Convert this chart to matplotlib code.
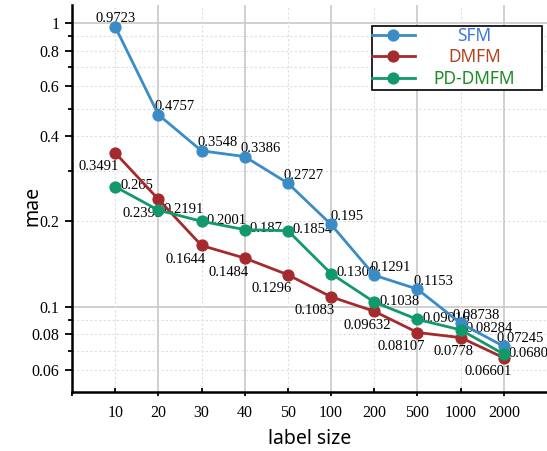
import numpy as np
import matplotlib
matplotlib.use("Agg")
import matplotlib.pyplot as plt
from matplotlib.patches import Rectangle
from matplotlib.ticker import FixedLocator, NullFormatter

# label sizes (drawn as evenly spaced categories)
sizes = ["10", "20", "30", "40", "50", "100", "200", "500", "1000", "2000"]

sfm = [0.9723, 0.4757, 0.3548, 0.3386, 0.2727, 0.195, 0.1291, 0.1153, 0.08738, 0.07245]
dmfm = [0.3491, 0.2393, 0.1644, 0.1484, 0.1296, 0.1083, 0.09632, 0.08107, 0.0778, 0.06601]
pd_dmfm = [0.265, 0.2191, 0.2001, 0.187, 0.1854, 0.1308, 0.1038, 0.09016, 0.08284, 0.06803]

series_names = ["SFM", "DMFM", "PD-DMFM"]
line_colors = ["#3a8cc6", "#a52a2d", "#12996a"]
text_colors = ["#3b78d8", "#b0461e", "#1d8c24"]

serif = "Liberation Serif"
sans = "Noto Sans"

fig = plt.figure(figsize=(5.47, 4.51), dpi=100)
ax = fig.add_axes([72 / 547, 1 - 392 / 451, 475 / 547, 387 / 451])

x = np.arange(1, len(sizes) + 1)
ax.set_yscale("log")
ax.set_xlim(0, 11)
ax.set_ylim(0.05, 1.16)

# grid: solid at decades / even categories, dashed elsewhere
for yv in [0.1, 1]:
    ax.axhline(yv, color="#c8c8c8", lw=1.2, zorder=0.5)
for yv in [0.06, 0.07, 0.08, 0.09, 0.2, 0.3, 0.4, 0.5, 0.6, 0.7, 0.8, 0.9]:
    ax.axhline(yv, color="#dedede", lw=0.8, ls=(0, (2, 2)), zorder=0.5)
for xv in [2, 4, 6, 8, 10]:
    ax.axvline(xv, color="#c8c8c8", lw=1.2, zorder=0.5)
for xv in [1, 3, 5, 7, 9]:
    ax.axvline(xv, color="#dedede", lw=0.8, ls=(0, (2, 2)), zorder=0.5)

handles = []
for vals, name, c in zip([sfm, dmfm, pd_dmfm], series_names, line_colors):
    h, = ax.plot(x, vals, "-o", color=c, lw=2, ms=7.8, label=name, zorder=2)
    handles.append(h)

# value labels: SFM above-right, DMFM below-left, PD-DMFM to the right
lab = dict(fontsize=10.5, family=serif, textcoords="offset pixels", zorder=1.5)
for i, v in enumerate(sfm):
    dx = 0 if i == 0 else 16
    ax.annotate(f"{v:g}", (x[i], v), xytext=(dx, 8), ha="center", va="center", **lab)
for i, v in enumerate(dmfm):
    dx = -7 if sizes[i] in ("200", "1000") else -16
    ax.annotate(f"{v:g}", (x[i], v), xytext=(dx, -14), ha="center", va="center", **lab)
for i, v in enumerate(pd_dmfm):
    ax.annotate(f"{v:g}", (x[i], v), xytext=(5, 1), ha="left", va="center", **lab)

# axes styling
for s in ["top", "right"]:
    ax.spines[s].set_visible(False)
for s in ["left", "bottom"]:
    ax.spines[s].set_linewidth(1.8)

ax.yaxis.set_major_locator(FixedLocator([0.06, 0.08, 0.1, 0.2, 0.4, 0.6, 0.8, 1]))
ax.yaxis.set_minor_locator(FixedLocator([0.07, 0.09, 0.3, 0.5, 0.7, 0.9]))
ax.set_yticklabels(["0.06", "0.08", "0.1", "0.2", "0.4", "0.6", "0.8", "1"])
ax.yaxis.set_minor_formatter(NullFormatter())
ax.tick_params(axis="y", which="major", direction="out", length=5, width=1.3, pad=4)
ax.tick_params(axis="y", which="minor", direction="out", length=3, width=1.3)

ax.xaxis.set_major_locator(FixedLocator([0, 2, 4, 6, 8, 10]))
ax.set_xticklabels([""] + sizes[1::2])
ax.xaxis.set_minor_locator(FixedLocator([1, 3, 5, 7, 9]))
ax.set_xticklabels(sizes[0::2], minor=True)
ax.tick_params(axis="x", which="major", direction="out", length=3, width=1.3, pad=6.5)
ax.tick_params(axis="x", which="minor", direction="in", length=3, width=1.3, pad=9.5)

for t in ax.get_xticklabels() + ax.get_xticklabels(minor=True) + ax.get_yticklabels():
    t.set_family(serif)
    t.set_fontsize(11.5)

ax.set_ylabel("mae", family=sans, fontsize=14)
ax.yaxis.set_label_coords(-0.063, 0.48)
ax.set_xlabel("label size", family=sans, fontsize=14)
ax.xaxis.set_label_coords(0.5, -0.095)

# legend box with centred, coloured entries
frame = Rectangle((372 / 547, 1 - 90 / 451), 170 / 547, 64 / 451, transform=fig.transFigure,
                  facecolor="white", edgecolor="black", lw=1.2, zorder=4)
ax.add_artist(frame)
frame.set_clip_on(False)
leg = ax.legend(handles=handles, loc="upper left", bbox_to_anchor=(372 / 547, 1 - 27 / 451),
                bbox_transform=fig.transFigure, frameon=False, borderpad=0, borderaxespad=0,
                handlelength=2.45, handletextpad=1.1, labelspacing=0.2,
                prop={"family": sans, "size": 12.5})
leg.set_zorder(5)
for t, c in zip(leg.get_texts(), text_colors):
    t.set_color(c)

fig.canvas.draw()
widths = [t.get_window_extent().width for t in leg.get_texts()]
for t, w in zip(leg.get_texts(), widths):
    t.set_x((max(widths) - w) / 2)

fig.savefig("out.png", dpi=100)
